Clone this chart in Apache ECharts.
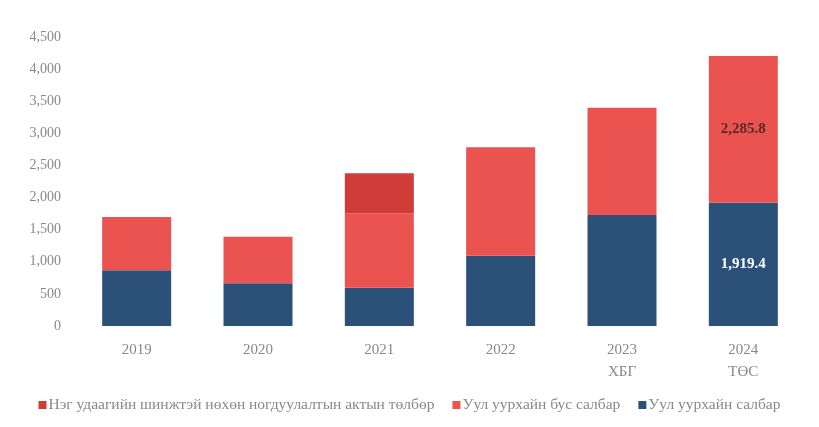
<!DOCTYPE html>
<html><head><meta charset="utf-8">
<script src="https://cdn.jsdelivr.net/npm/echarts@6/dist/echarts.min.js"></script>
<style>html,body{margin:0;padding:0;background:#fff}#c{width:819px;height:427px}</style>
</head><body><div id="c"></div>
<script>
const categories = ['2019', '2020', '2021', '2022', '2023\nХБГ', '2024\nТӨС'];
const miningSector = [870, 665, 595, 1095, 1730, 1919.4];
const nonMiningSector = [828, 725, 1160, 1690, 1670, 2285.8];
const oneTimePayment = [null, null, 625, null, null, null];
const yTicks = [0, 500, 1000, 1500, 2000, 2500, 3000, 3500, 4000, 4500];
const seriesNames = ['Нэг удаагийн шинжтэй нөхөн ногдуулалтын актын төлбөр', 'Уул уурхайн бус салбар', 'Уул уурхайн салбар'];

const font = 'Liberation Serif';
const chart = echarts.init(document.getElementById('c'));
function labelFor(idx, color) {
  return {
    show: true, position: 'inside', fontFamily: font, fontWeight: 'bold', fontSize: 15, color: color,
    formatter: p => p.dataIndex === idx ? p.value.toLocaleString('en-US', {minimumFractionDigits: 1, maximumFractionDigits: 1}) : ''
  };
}
chart.setOption({
  animation: false,
  grid: {left: 76, right: 15, top: 37, bottom: 101},
  legend: {
    bottom: 9, left: 'center', itemWidth: 8, itemHeight: 8, itemGap: 18,
    icon: 'rect',
    textStyle: {fontFamily: font, fontSize: 15.5, color: '#888', padding: [0, 0, 0, -3]},
    data: seriesNames
  },
  xAxis: {
    type: 'category', data: categories,
    axisLine: {show: false}, axisTick: {show: false},
    axisLabel: {fontFamily: font, fontSize: 15, color: '#888', margin: 13, lineHeight: 22}
  },
  yAxis: {
    type: 'value', min: 0, max: 4500, interval: 500,
    splitLine: {show: false}, axisLine: {show: false}, axisTick: {show: false},
    axisLabel: {fontFamily: font, fontSize: 14, color: '#888', margin: 15,
      formatter: v => yTicks.includes(v) ? v.toLocaleString('en-US') : ''}
  },
  series: [
    {name: seriesNames[2], type: 'bar', stack: 't', barWidth: 69, data: miningSector,
      itemStyle: {color: '#2c5178'}, label: labelFor(5, '#ffffff')},
    {name: seriesNames[1], type: 'bar', stack: 't', barWidth: 69, data: nonMiningSector,
      itemStyle: {color: '#ea5350'}, label: labelFor(5, '#5a2a2a')},
    {name: seriesNames[0], type: 'bar', stack: 't', barWidth: 69, data: oneTimePayment,
      itemStyle: {color: '#d03c37'}}
  ]
});
</script></body></html>
